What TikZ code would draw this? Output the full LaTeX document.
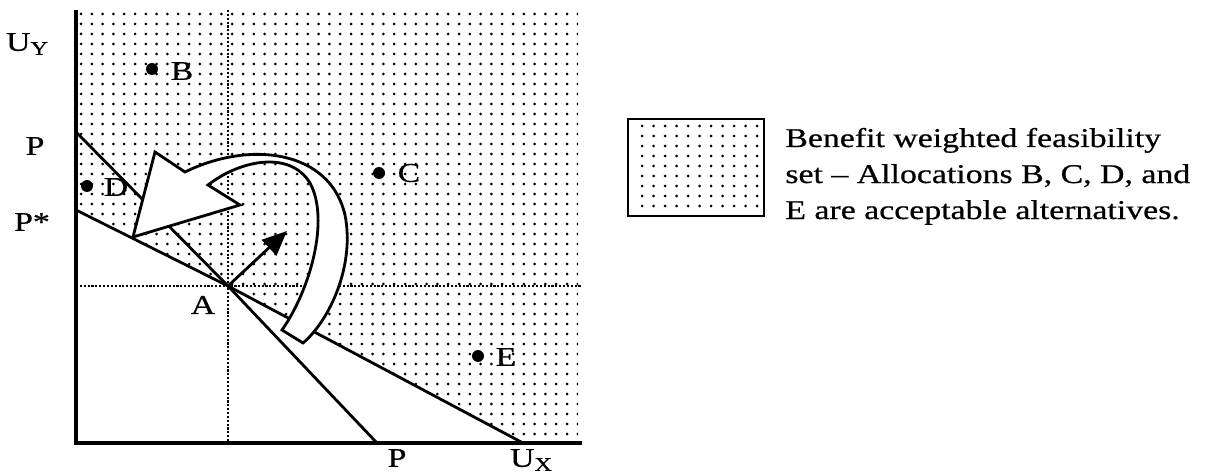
\documentclass[tikz,border=0pt]{standalone}
\usepackage{fontspec}
\setmainfont[FakeStretch=1.25,FakeBold=0.6]{Liberation Serif}
\usetikzlibrary{arrows.meta}

\newcommand{\lowcap}[1]{\raisebox{-2.3pt}{\fontsize{11}{11}\selectfont #1}}

\tikzset{
  axis/.style={line width=1.8pt},
  budget/.style={line width=1.6pt},
  guide/.style={densely dotted, line width=1.2pt},
  turnarrow/.style={line width=1.6pt, fill=white, line join=miter},
  shiftarrow/.style={line width=1.6pt, -{Triangle[length=14pt,width=12pt]}},
  lab/.style={font=\fontsize{15.4}{18}\selectfont, inner sep=0pt},
  keytext/.style={font=\fontsize{15.4}{19}\selectfont, inner sep=0pt, anchor=base west}
}

\begin{document}
\begin{tikzpicture}[x=0.02cm, y=-0.02cm]
  \useasboundingbox (0,0) rectangle (1207,473);

  % axes, the status quo A and the two price lines
  \coordinate (O) at (76,443);
  \coordinate (Ytop) at (76,10);
  \coordinate (Xend) at (582,443);
  \coordinate (A) at (228,286);
  \coordinate (PY) at (76,132);
  \coordinate (PX) at (377,443);
  \coordinate (Pstar) at (76,210);
  \coordinate (UX) at (523,443);
  \coordinate (Ahead) at (287,231);

  % benefit weighted feasibility set (dots)
  \begin{scope}
    \clip (Ytop) -- (578,10) -- (578,443) -- (UX) -- (A) -- (Pstar) -- cycle;
    \foreach \i in {0,...,46}{
      \foreach \j in {0,...,43}{
        \fill (81+\i*10.8, 14+\j*10) circle (0.03cm);
      }
    }
  \end{scope}

  \draw[guide] (A |- Ytop) -- (A |- O);
  \draw[guide] (O |- A) -- (Xend |- A);
  \draw[budget] (PY) -- (A) -- (PX);
  \draw[budget] (Pstar) -- (A) -- (UX);
  \draw[axis] (Ytop) -- (O) -- (Xend);

  % the big turning arrow
  \draw[turnarrow] (133,237) -- (155,152) -- (185,172)
    .. controls (250,140) and (330,150) .. (345,215)
    .. controls (355,265) and (330,320) .. (303,343)
    -- (282,330)
    .. controls (310,290) and (330,220) .. (310,183)
    .. controls (290,150) and (240,160) .. (208,185)
    -- (240,205) -- cycle;

  \draw[shiftarrow] (A) -- (Ahead);

  % allocations
  \coordinate (B) at (152,69);
  \coordinate (C) at (379,173);
  \coordinate (D) at (87,186);
  \coordinate (E) at (478,356);
  \foreach \pt in {B,C,D,E}{
    \fill (\pt) circle (0.12cm);
  }
  \node[lab] (Blab) at (182,71) {B};
  \node[lab] (Clab) at (409,173) {C};
  \node[lab] (Dlab) at (116,187) {D};
  \node[lab] (Elab) at (506,357) {E};
  \node[lab] (Alab) at (203,305) {A};

  % axis labels
  \node[lab] (UYlab) at (27,44) {U\lowcap{Y}};
  \node[lab] (PYlab) at (35,146) {P};
  \node[lab] (Pslab) at (32,222) {P*};
  \node[lab] (PXlab) at (397,458) {P};
  \node[lab] (UXlab) at (531,460) {U\lowcap{X}};

  % key
  \begin{scope}
    \clip (628,119) rectangle (764,216);
    \foreach \i in {0,...,10}{
      \foreach \j in {0,...,8}{
        \fill (642+\i*11.5, 126+\j*10) circle (0.03cm);
      }
    }
  \end{scope}
  \draw[line width=1.5pt] (628,119) rectangle (764,216);
  \node[keytext] (key1) at (785,147) {Benefit weighted feasibility};
  \node[keytext] (key2) at (785,183) {set -- Allocations B, C, D, and};
  \node[keytext] (key3) at (785,219) {E are acceptable alternatives.};
\end{tikzpicture}
\end{document}
